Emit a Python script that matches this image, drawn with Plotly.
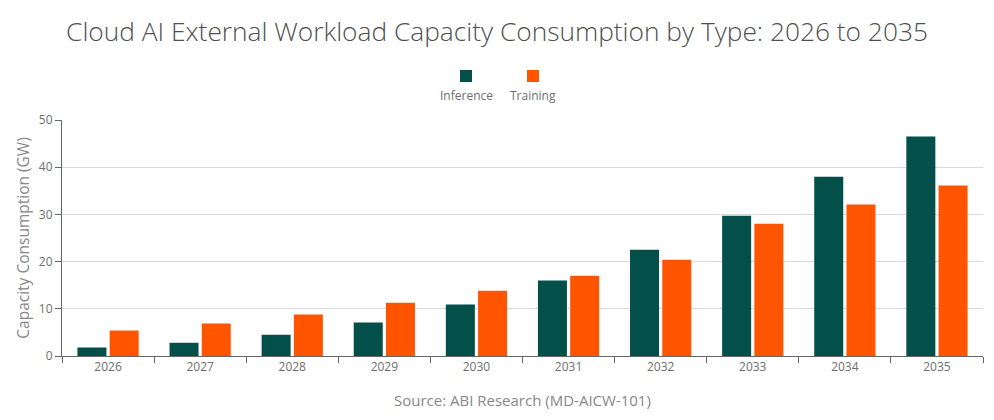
import plotly.graph_objects as go

years = ["2026", "2027", "2028", "2029", "2030", "2031", "2032", "2033", "2034", "2035"]
inference = [1.8, 2.8, 4.5, 7.1, 10.9, 16.0, 22.5, 29.7, 38.0, 46.5]
training = [5.4, 6.9, 8.8, 11.3, 13.8, 17.0, 20.4, 28.0, 32.1, 36.1]
series_names = ["Inference", "Training"]
colors = ["#03504A", "#FF5500"]

FONT = "Segoe UI, Open Sans, Noto Sans, sans-serif"

fig = go.Figure()
fig.add_trace(go.Bar(x=years, y=inference, name=series_names[0], marker_color=colors[0],
                     marker_line_width=0))
fig.add_trace(go.Bar(x=years, y=training, name=series_names[1], marker_color=colors[1],
                     marker_line_width=0))

fig.update_layout(
    width=994, height=420,
    margin=dict(l=62, r=11, t=120, b=64, autoexpand=False),
    paper_bgcolor="white", plot_bgcolor="white",
    showlegend=False,
    barmode="group", bargap=0.3, bargroupgap=0.1,
    font=dict(family=FONT, color="#666666", size=12),
    title=dict(text="Cloud AI External Workload Capacity Consumption by Type: 2026 to 2035",
               x=0.5, xanchor="center", y=0.925, yanchor="middle",
               font=dict(family=FONT, size=26.3, color="#4f4f4f", weight=300)),
    xaxis=dict(type="category", tickson="boundaries", ticks="outside", ticklen=6,
               tickcolor="#666666", showline=True, linecolor="#666666", linewidth=1,
               showgrid=False, automargin=False, tickfont=dict(size=12, color="#6e6e6e")),
    yaxis=dict(range=[0, 50], dtick=10, ticks="outside", ticklen=6, tickcolor="#666666",
               showline=True, linecolor="#666666", linewidth=1,
               showgrid=True, gridcolor="#d9d9d9", gridwidth=1, zeroline=False,
               automargin=False,
               tickfont=dict(size=12, color="#6e6e6e"),
               title=dict(text="Capacity Consumption (GW)", standoff=5,
                          font=dict(size=15.5, color="#888888"))),
)

# legend (symbol above label)
leg_x = [466, 533]
for name, col, cx in zip(series_names, colors, leg_x):
    fig.add_shape(type="rect", xref="paper", yref="paper",
                  x0=(cx - 6 - 62) / 921, x1=(cx + 6 - 62) / 921,
                  y0=(356 - 82) / 236, y1=(356 - 70) / 236,
                  fillcolor=col, line_width=0)
    fig.add_annotation(text=name, xref="paper", yref="paper",
                       x=(cx - 62) / 921, y=(356 - 95) / 236,
                       xanchor="center", yanchor="middle", showarrow=False,
                       font=dict(size=12, color="#6e6e6e"))

fig.add_annotation(text="Source: ABI Research (MD-AICW-101)", xref="paper", yref="paper",
                   x=0.5, y=(356 - 400) / 236, xanchor="center", yanchor="middle",
                   showarrow=False, font=dict(size=15, color="#888888"))

fig.write_html("out.html", config={"displayModeBar": False},
               post_script="document.body.style.margin='0';document.body.style.overflow='hidden';")
